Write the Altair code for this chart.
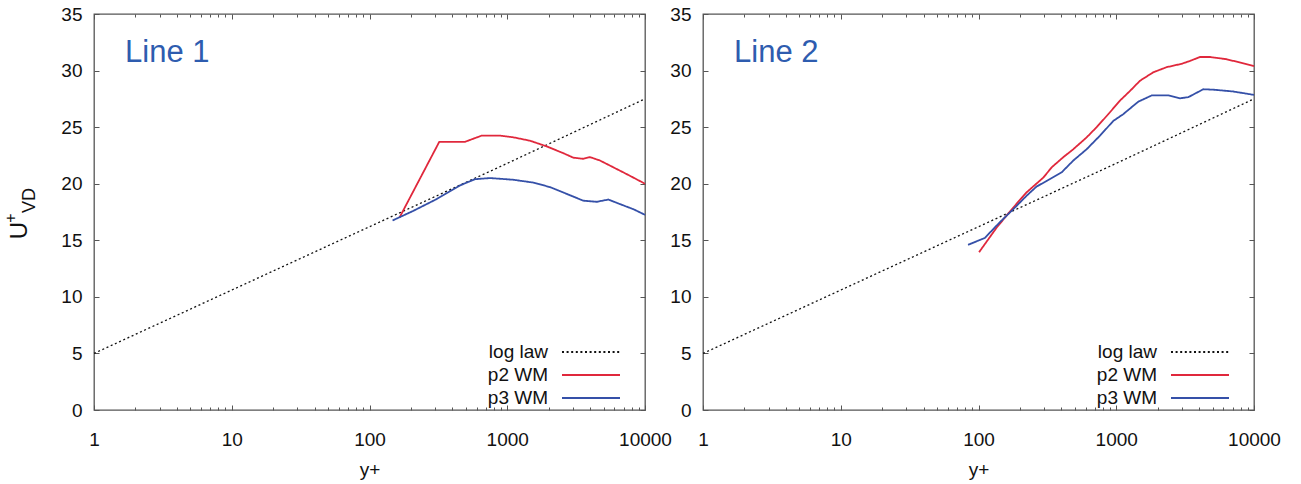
import altair as alt
import pandas as pd

FONT = "Liberation Sans"

# ---- data ----
SERIES = ["log law", "p2 WM", "p3 WM"]
COLORS = ["#111111", "#e0283c", "#3550a8"]
DASHES = [[2, 2.6], [1, 0], [1, 0]]

LOG_X = [1, 10, 100, 1000, 10000]
LOG_U = [5.0, 10.6, 16.2, 21.8, 27.5]

L1_P2_X = [165, 321, 493, 652, 886, 1107, 1463, 1933, 2552, 3018, 3566, 3990, 4712, 5888, 7360, 10000]
L1_P2_U = [17.0, 23.7, 23.7, 24.25, 24.25, 24.1, 23.8, 23.3, 22.7, 22.3, 22.2, 22.35, 22.05, 21.45, 20.85, 20.0]
L1_P3_X = [147, 208, 308, 454, 583, 750, 1107, 1546, 2044, 2702, 3566, 4463, 5418, 6580, 8223, 10000]
L1_P3_U = [16.75, 17.6, 18.65, 19.85, 20.4, 20.5, 20.35, 20.1, 19.7, 19.1, 18.5, 18.4, 18.6, 18.2, 17.75, 17.25]

L2_P2_X = [101, 136, 179, 224, 296, 340, 413, 488, 610, 721, 876, 1065, 1259, 1487, 1858, 2323,
           2986, 3430, 4055, 4797, 6341, 10000]
L2_P2_U = [13.95, 16.15, 17.9, 19.25, 20.55, 21.45, 22.35, 23.05, 24.1, 25.0, 26.15, 27.35, 28.2, 29.1,
           29.85, 30.3, 30.6, 30.85, 31.2, 31.2, 31.0, 30.4]
L2_P3_X = [84, 111, 143, 179, 224, 264, 313, 401, 488, 610, 762, 952, 1125, 1445, 1807, 2388,
           2904, 3337, 4285, 5211, 7076, 10000]
L2_P3_U = [14.6, 15.2, 16.6, 17.75, 18.95, 19.75, 20.25, 21.0, 22.05, 23.05, 24.25, 25.55, 26.15, 27.25,
           27.8, 27.8, 27.55, 27.65, 28.35, 28.3, 28.15, 27.85]

X_MAJOR = [1, 10, 100, 1000, 10000]
X_MINOR = [m * 10 ** k for k in range(4) for m in range(2, 10)]
Y_TICKS = [0, 5, 10, 15, 20, 25, 30, 35]

PANEL_LABELS = ["Line 1", "Line 2"]
LABEL_POS = (1.68, 30.8)

FRAME = "#555555"
W, H = 551, 396


def xaxis(orient, values, size, labels=False, title=None):
    kw = dict(orient=orient, values=values, tickSize=size, offset=-size, domain=False,
              grid=False, labels=labels, tickColor=FRAME, tickWidth=1, title=title)
    if labels:
        kw.update(format="d", labelFlush=False, labelOverlap=False, labelPadding=20,
                  labelFontSize=19, labelFont=FONT, labelColor="#111111",
                  titleFontSize=19, titleFont=FONT, titleFontWeight="normal",
                  titleColor="#111111", titlePadding=11)
    return alt.Axis(**kw)


def yaxis(orient, labels=False):
    kw = dict(orient=orient, values=Y_TICKS, tickSize=5, offset=-5, domain=False, grid=False,
              labels=labels, tickColor=FRAME, tickWidth=1, title=None)
    if labels:
        kw.update(labelPadding=12, labelFontSize=19, labelFont=FONT, labelColor="#111111")
    return alt.Axis(**kw)


def legend():
    return alt.Legend(title=None, orient="none", legendX=486, legendY=327, direction="vertical",
                      symbolType="M-3,0H3", symbolSize=374, symbolStrokeWidth=1.8,
                      labelAlign="right", labelOffset={"expr": "-54"}, labelFontSize=19,
                      labelFont=FONT, labelColor="#111111", rowPadding=2, padding=0,
                      labelLimit=300)


def panel(label, p2x, p2u, p3x, p3u, with_ytitle):
    xs = alt.Scale(type="log", domain=[1, 10000])
    ys = alt.Scale(domain=[0, 35])
    color = alt.Color("series:N", scale=alt.Scale(domain=SERIES, range=COLORS), legend=legend())
    dash = alt.StrokeDash("series:N", scale=alt.Scale(domain=SERIES, range=DASHES), legend=legend())

    df_log = pd.DataFrame({"yplus": LOG_X, "U": LOG_U, "series": SERIES[0]})
    df_p2 = pd.DataFrame({"yplus": p2x, "U": p2u, "series": SERIES[1]})
    df_p3 = pd.DataFrame({"yplus": p3x, "U": p3u, "series": SERIES[2]})
    df_lab = pd.DataFrame({"yplus": [LABEL_POS[0]], "U": [LABEL_POS[1]], "label": [label]})

    loglaw = alt.Chart(df_log).mark_line(strokeWidth=1.3).encode(
        x=alt.X("yplus:Q", scale=xs, axis=xaxis("bottom", X_MAJOR, 5, labels=True, title="y+")),
        y=alt.Y("U:Q", scale=ys, axis=yaxis("left", labels=True)),
        color=color, strokeDash=dash)
    p2 = alt.Chart(df_p2).mark_line(strokeWidth=1.8).encode(
        x=alt.X("yplus:Q", scale=xs, axis=xaxis("top", X_MAJOR, 5)),
        y=alt.Y("U:Q", scale=ys, axis=yaxis("right")),
        color=color, strokeDash=dash)
    p3 = alt.Chart(df_p3).mark_line(strokeWidth=1.8).encode(
        x=alt.X("yplus:Q", scale=xs, axis=xaxis("bottom", X_MINOR, 3)),
        y=alt.Y("U:Q", scale=ys, axis=None),
        color=color, strokeDash=dash)
    lab = alt.Chart(df_lab).mark_text(align="left", baseline="alphabetic", fontSize=31,
                                      font=FONT, color="#2e5caf").encode(
        x=alt.X("yplus:Q", scale=xs, axis=xaxis("top", X_MINOR, 3)),
        y=alt.Y("U:Q", scale=ys, axis=None),
        text="label:N")
    layers = [loglaw, p2, p3, lab]
    if with_ytitle:
        one = pd.DataFrame({"k": [0]})
        layers += [
            alt.Chart(one).mark_text(angle=270, align="center", baseline="alphabetic",
                                     fontSize=24, font=FONT, color="#111111").encode(
                x=alt.value(-67), y=alt.value(216.5), text=alt.value("U")),
            alt.Chart(one).mark_text(angle=270, align="center", baseline="alphabetic",
                                     fontSize=16, font=FONT, color="#111111").encode(
                x=alt.value(-78), y=alt.value(204), text=alt.value("+")),
            alt.Chart(one).mark_text(angle=270, align="center", baseline="alphabetic",
                                     fontSize=18, font=FONT, color="#111111").encode(
                x=alt.value(-59), y=alt.value(186.5), text=alt.value("VD")),
        ]
    return alt.layer(*layers).resolve_axis(x="independent", y="independent").properties(
        width=W, height=H)


left = panel(PANEL_LABELS[0], L1_P2_X, L1_P2_U, L1_P3_X, L1_P3_U, True)
right = panel(PANEL_LABELS[1], L2_P2_X, L2_P2_U, L2_P3_X, L2_P3_U, False)

chart = alt.hconcat(left, right, spacing=-4).resolve_scale(
    color="independent", strokeDash="independent"
).properties(
    padding={"left": 2, "top": 4, "right": 0, "bottom": 0}, background="white"
).configure_view(stroke=FRAME, strokeWidth=1.3)

chart.save("out.html", embed_options={"renderer": "svg", "actions": False})
